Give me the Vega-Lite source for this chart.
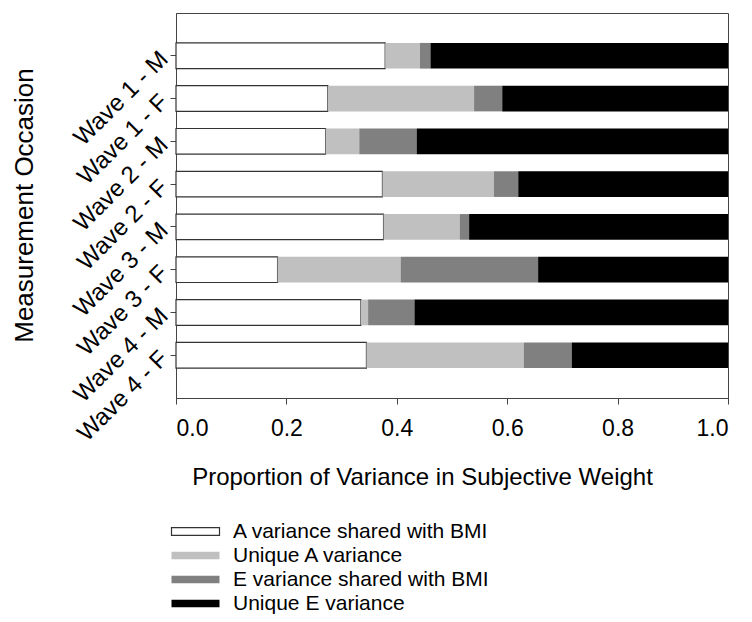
{
  "$schema": "https://vega.github.io/schema/vega-lite/v6.json",
  "autosize": {"type": "none"},
  "padding": {"left": 176, "top": 13, "right": 24, "bottom": 224},
  "width": 552,
  "height": 385,
  "background": "white",
  "config": {
    "font": "Liberation Sans",
    "view": {"stroke": "#444", "strokeWidth": 1},
    "axis": {"domainColor": "#444", "tickColor": "#444", "labelColor": "black", "titleColor": "black", "grid": false, "titleFontWeight": "normal", "labelFont": "Liberation Sans", "titleFont": "Liberation Sans"},
    "legend": {"labelFont": "Liberation Sans"}
  },
  "data": {
    "values": [
      {"occasion": "Wave 1 - M", "component": "A variance shared with BMI", "k": 1, "value": 0.379},
      {"occasion": "Wave 1 - M", "component": "Unique A variance", "k": 2, "value": 0.063},
      {"occasion": "Wave 1 - M", "component": "E variance shared with BMI", "k": 3, "value": 0.019},
      {"occasion": "Wave 1 - M", "component": "Unique E variance", "k": 4, "value": 0.539},
      {"occasion": "Wave 1 - F", "component": "A variance shared with BMI", "k": 1, "value": 0.275},
      {"occasion": "Wave 1 - F", "component": "Unique A variance", "k": 2, "value": 0.265},
      {"occasion": "Wave 1 - F", "component": "E variance shared with BMI", "k": 3, "value": 0.051},
      {"occasion": "Wave 1 - F", "component": "Unique E variance", "k": 4, "value": 0.409},
      {"occasion": "Wave 2 - M", "component": "A variance shared with BMI", "k": 1, "value": 0.271},
      {"occasion": "Wave 2 - M", "component": "Unique A variance", "k": 2, "value": 0.061},
      {"occasion": "Wave 2 - M", "component": "E variance shared with BMI", "k": 3, "value": 0.104},
      {"occasion": "Wave 2 - M", "component": "Unique E variance", "k": 4, "value": 0.564},
      {"occasion": "Wave 2 - F", "component": "A variance shared with BMI", "k": 1, "value": 0.374},
      {"occasion": "Wave 2 - F", "component": "Unique A variance", "k": 2, "value": 0.202},
      {"occasion": "Wave 2 - F", "component": "E variance shared with BMI", "k": 3, "value": 0.044},
      {"occasion": "Wave 2 - F", "component": "Unique E variance", "k": 4, "value": 0.380},
      {"occasion": "Wave 3 - M", "component": "A variance shared with BMI", "k": 1, "value": 0.376},
      {"occasion": "Wave 3 - M", "component": "Unique A variance", "k": 2, "value": 0.138},
      {"occasion": "Wave 3 - M", "component": "E variance shared with BMI", "k": 3, "value": 0.017},
      {"occasion": "Wave 3 - M", "component": "Unique E variance", "k": 4, "value": 0.469},
      {"occasion": "Wave 3 - F", "component": "A variance shared with BMI", "k": 1, "value": 0.184},
      {"occasion": "Wave 3 - F", "component": "Unique A variance", "k": 2, "value": 0.223},
      {"occasion": "Wave 3 - F", "component": "E variance shared with BMI", "k": 3, "value": 0.249},
      {"occasion": "Wave 3 - F", "component": "Unique E variance", "k": 4, "value": 0.344},
      {"occasion": "Wave 4 - M", "component": "A variance shared with BMI", "k": 1, "value": 0.335},
      {"occasion": "Wave 4 - M", "component": "Unique A variance", "k": 2, "value": 0.013},
      {"occasion": "Wave 4 - M", "component": "E variance shared with BMI", "k": 3, "value": 0.084},
      {"occasion": "Wave 4 - M", "component": "Unique E variance", "k": 4, "value": 0.568},
      {"occasion": "Wave 4 - F", "component": "A variance shared with BMI", "k": 1, "value": 0.345},
      {"occasion": "Wave 4 - F", "component": "Unique A variance", "k": 2, "value": 0.285},
      {"occasion": "Wave 4 - F", "component": "E variance shared with BMI", "k": 3, "value": 0.087},
      {"occasion": "Wave 4 - F", "component": "Unique E variance", "k": 4, "value": 0.283}
    ]
  },
  "mark": {"type": "bar", "strokeWidth": 1.2},
  "encoding": {
    "y": {
      "field": "occasion", "type": "nominal", "sort": null,
      "scale": {"paddingInner": 0.4, "paddingOuter": 0.7},
      "axis": {
        "title": "Measurement Occasion", "titleFontSize": 26, "titleAngle": -90, "titleX": -144, "titleY": 192, "titleBaseline": "alphabetic", "titleAlign": "center",
        "labelAngle": -45, "labelFontSize": 24, "labelPadding": 6, "tickSize": 6, "domain": true
      }
    },
    "x": {
      "field": "value", "type": "quantitative", "stack": "zero",
      "scale": {"domain": [0, 1], "nice": false},
      "axis": {
        "title": "Proportion of Variance in Subjective Weight", "titleFontSize": 24, "titleX": 246, "titleY": 86, "titleBaseline": "alphabetic", "titleAlign": "center",
        "values": [0, 0.2, 0.4, 0.6, 0.8, 1.0], "format": ".1f", "labelFontSize": 23, "labelPadding": 13, "tickSize": 6
      }
    },
    "order": {"field": "k", "type": "quantitative"},
    "color": {
      "field": "component", "type": "nominal",
      "scale": {"domain": ["A variance shared with BMI", "Unique A variance", "E variance shared with BMI", "Unique E variance"], "range": ["#ffffff", "#c0c0c0", "#808080", "#000000"]},
      "legend": {
        "title": null, "orient": "none", "legendX": 9, "legendY": 508, "padding": 0,
        "symbolType": "M-4.8,-0.77L4.8,-0.77L4.8,0.77L-4.8,0.77Z", "symbolSize": 100, "symbolStrokeWidth": 1.2,
        "labelFontSize": 21, "labelColor": "black", "labelOffset": 27, "rowPadding": 2, "labelLimit": 400
      }
    },
    "stroke": {
      "field": "component", "type": "nominal",
      "scale": {"domain": ["A variance shared with BMI", "Unique A variance", "E variance shared with BMI", "Unique E variance"], "range": ["#333333", "transparent", "transparent", "transparent"]}
    }
  }
}
